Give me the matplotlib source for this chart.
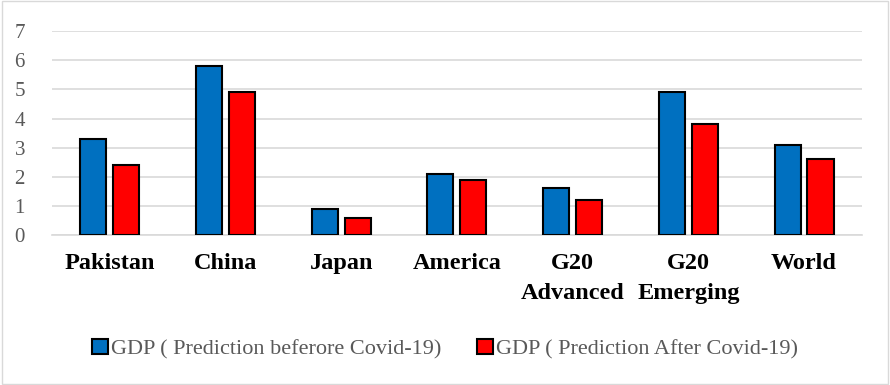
import matplotlib.pyplot as plt
import numpy as np

categories = ['Pakistan', 'China', 'Japan', 'America', 'G20\nAdvanced', 'G20\nEmerging', 'World']
before_covid = [3.3, 5.8, 0.9, 2.1, 1.6, 4.9, 3.1]
after_covid = [2.4, 4.9, 0.6, 1.9, 1.2, 3.8, 2.6]
series_names = ['GDP ( Prediction beferore Covid-19)', 'GDP ( Prediction After Covid-19)']

plt.rcParams['font.family'] = ['Liberation Serif', 'DejaVu Serif']

fig = plt.figure(figsize=(8.9, 3.85), dpi=100)
ax = fig.add_axes([0.0584, 0.3896, 0.91, 0.5294])

x = np.arange(len(categories))
w = 0.225
gap = 0.03
ax.bar(x - w / 2 - gap, before_covid, w, color='#0070C0', edgecolor='black', linewidth=1.5,
       label=series_names[0], zorder=3)
ax.bar(x + w / 2 + gap, after_covid, w, color='#FF0000', edgecolor='black', linewidth=1.5,
       label=series_names[1], zorder=3)

ax.set_xlim(-0.5, len(categories) - 0.5)
ax.set_ylim(0, 7)
ax.set_yticks(range(8))
ax.yaxis.grid(True, color='#D9D9D9', linewidth=1.2, zorder=0)
for s in ['top', 'right', 'left']:
    ax.spines[s].set_visible(False)
ax.spines['bottom'].set_color('#D9D9D9')
ax.spines['bottom'].set_linewidth(1.2)
ax.tick_params(axis='both', length=0)
ax.tick_params(axis='y', labelsize=15, labelcolor='#595959', pad=27)
for lbl in ax.get_yticklabels():
    lbl.set_horizontalalignment('left')
ax.set_xticks(x)
ax.set_xticklabels(categories, fontsize=17.5, fontweight='bold', linespacing=1.55)
ax.tick_params(axis='x', pad=13)

fig.legend(loc='center', bbox_to_anchor=(0.5, 0.094), ncol=2, frameon=False,
           fontsize=16, handlelength=0.7, handleheight=0.7, handletextpad=0.15,
           columnspacing=1.6, labelcolor='#595959')

fig.patches.append(plt.Rectangle((0.002, 0.003), 0.996, 0.994, transform=fig.transFigure,
                                 fill=False, edgecolor='#D9D9D9', linewidth=1))

fig.savefig('out.png', dpi=100)
